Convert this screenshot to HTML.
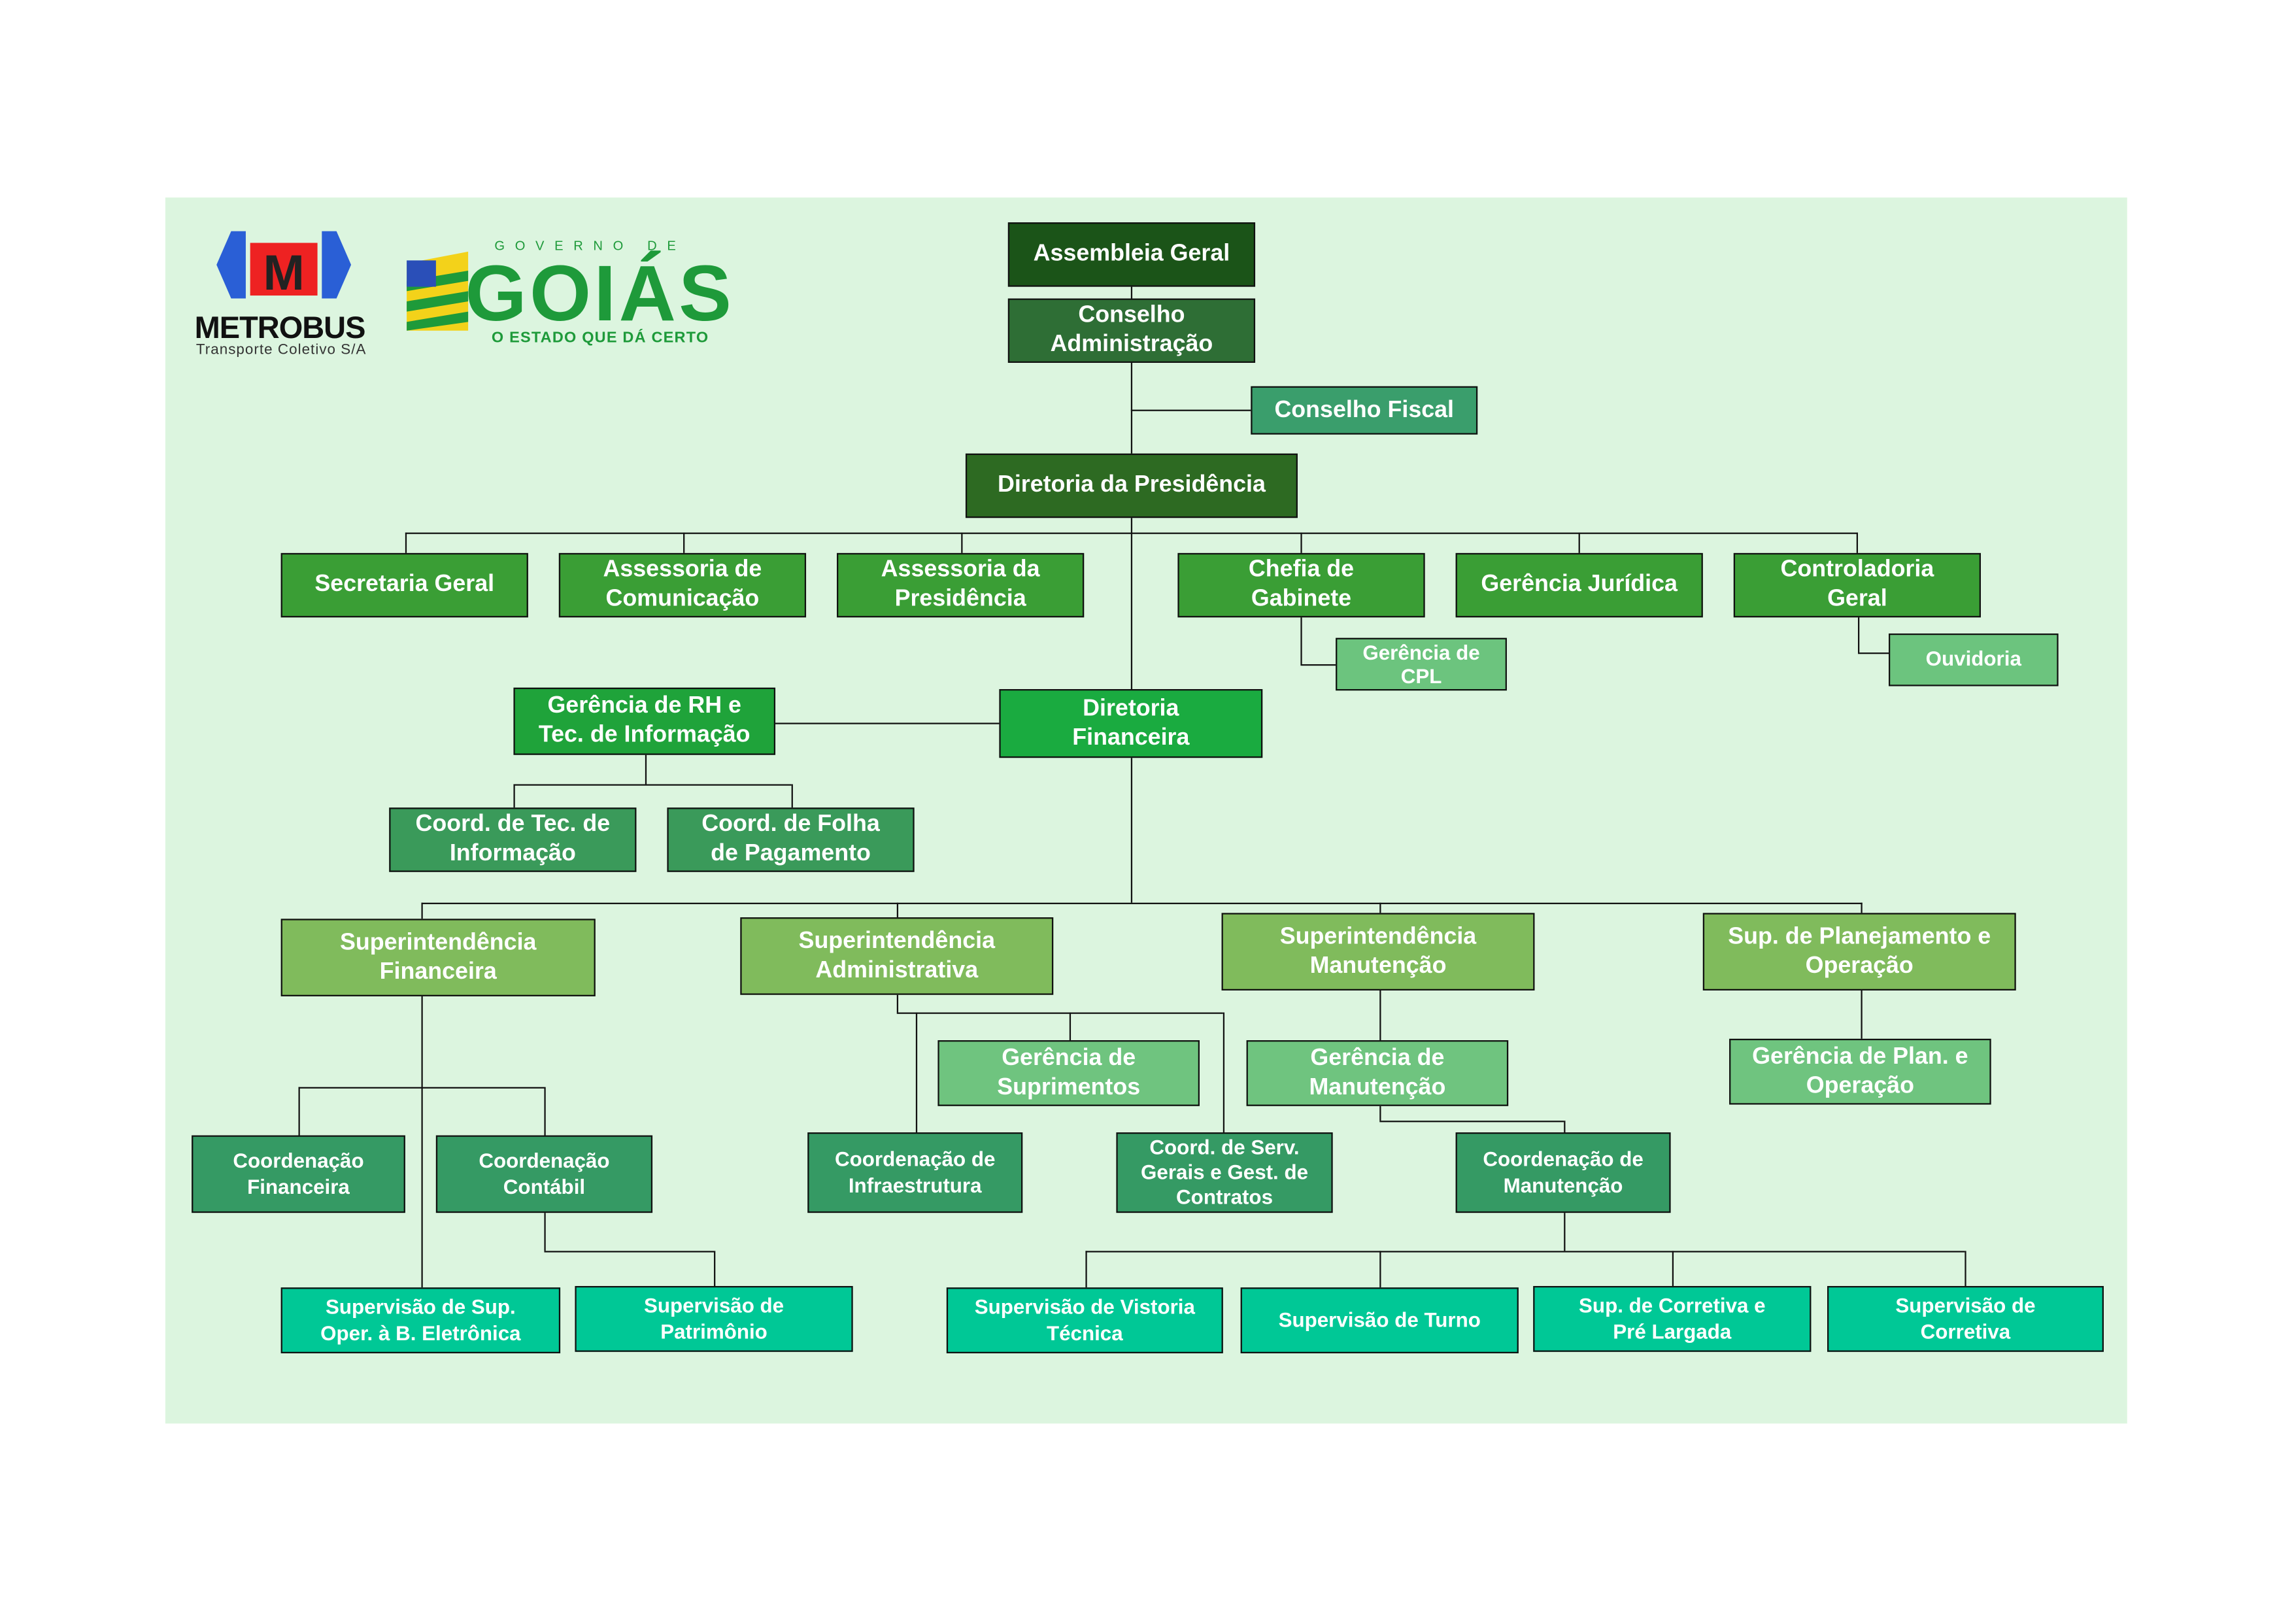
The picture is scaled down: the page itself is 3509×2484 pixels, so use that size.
<!DOCTYPE html>
<html><head><meta charset="utf-8"><style>
html,body{margin:0;padding:0;background:#fff;width:3509px;height:2481px;overflow:hidden}
#w{position:absolute;left:0;top:0;width:1570px;height:1110px;transform:scale(2.2378);transform-origin:0 0;font-family:"Liberation Sans",sans-serif}
#bg{position:absolute;left:113px;top:135px;width:1341px;height:838px;background:#dcf5df}
.b{position:absolute;box-sizing:border-box;border:1.3px solid #111;color:#fff;font-weight:bold;display:flex;align-items:center;justify-content:center;text-align:center;line-height:1.22;font-size:16px}
.s{font-size:14px}
.h{position:absolute;height:1.3px;background:#111}
.v{position:absolute;width:1.3px;background:#111}
</style></head><body><div id="w">
<div id="bg"></div>
<svg style="position:absolute;left:128px;top:152px" width="390" height="100" viewBox="0 0 390 100">
<path d="M30 6 L40 6 L40 52 L30 52 L20 29 Z" fill="#2a5fd6"/>
<path d="M102 6 L92 6 L92 52 L102 52 L112 29 Z" fill="#2a5fd6"/>
<rect x="43" y="14" width="46" height="36" fill="#e22"/>
<text x="66" y="46" font-family="Liberation Sans" font-weight="bold" font-size="34" fill="#222" text-anchor="middle">M</text>
<text x="5" y="79" font-family="Liberation Sans" font-weight="bold" font-size="21" fill="#111" textLength="117">METROBUS</text>
<text x="6" y="90" font-family="Liberation Sans" font-size="10" fill="#333" textLength="116">Transporte Coletivo S/A</text>
<path d="M150 28 L192 20 L192 74 L150 74 Z" fill="#f3d21a"/>
<path d="M150 40 L192 33 L192 40 L150 47 Z M150 54 L192 47 L192 54 L150 61 Z M150 68 L192 61 L192 68 L150 74 Z" fill="#1e9a3a"/>
<rect x="150" y="26" width="20" height="18" fill="#2a4fb8"/>
<text x="210" y="19" font-family="Liberation Sans" font-size="9" fill="#1e9a3a" letter-spacing="7">GOVERNO DE</text>
<text x="190" y="67" font-family="Liberation Sans" font-weight="bold" font-size="54" fill="#1e9a3a" textLength="182">GOIÁS</text>
<text x="208" y="82" font-family="Liberation Sans" font-weight="bold" font-size="10.5" fill="#1e9a3a" textLength="148">O ESTADO QUE DÁ CERTO</text>
</svg>
<div class="v" style="left:773px;top:196px;height:114px"></div>
<div class="h" style="left:773px;top:280px;width:82px"></div>
<div class="v" style="left:773px;top:354px;height:117px"></div>
<div class="v" style="left:773px;top:518px;height:99px"></div>
<div class="h" style="left:277px;top:364px;width:993px"></div>
<div class="v" style="left:277px;top:364px;height:14px"></div>
<div class="v" style="left:467px;top:364px;height:14px"></div>
<div class="v" style="left:657px;top:364px;height:14px"></div>
<div class="v" style="left:889px;top:364px;height:14px"></div>
<div class="v" style="left:1079px;top:364px;height:14px"></div>
<div class="v" style="left:1269px;top:364px;height:14px"></div>
<div class="v" style="left:889px;top:422px;height:32px"></div>
<div class="h" style="left:889px;top:454px;width:24px"></div>
<div class="v" style="left:1270px;top:422px;height:24px"></div>
<div class="h" style="left:1270px;top:446px;width:21px"></div>
<div class="h" style="left:530px;top:494px;width:153px"></div>
<div class="v" style="left:441px;top:516px;height:20px"></div>
<div class="h" style="left:351px;top:536px;width:190px"></div>
<div class="v" style="left:351px;top:536px;height:16px"></div>
<div class="v" style="left:541px;top:536px;height:16px"></div>
<div class="h" style="left:288px;top:617px;width:985px"></div>
<div class="v" style="left:288px;top:617px;height:11px"></div>
<div class="v" style="left:613px;top:617px;height:10px"></div>
<div class="v" style="left:943px;top:617px;height:7px"></div>
<div class="v" style="left:1272px;top:617px;height:7px"></div>
<div class="v" style="left:288px;top:681px;height:199px"></div>
<div class="h" style="left:204px;top:743px;width:168px"></div>
<div class="v" style="left:204px;top:743px;height:33px"></div>
<div class="v" style="left:372px;top:743px;height:33px"></div>
<div class="v" style="left:372px;top:829px;height:26px"></div>
<div class="h" style="left:372px;top:855px;width:116px"></div>
<div class="v" style="left:488px;top:855px;height:24px"></div>
<div class="v" style="left:613px;top:680px;height:12px"></div>
<div class="h" style="left:613px;top:692px;width:223px"></div>
<div class="v" style="left:731px;top:692px;height:19px"></div>
<div class="v" style="left:626px;top:692px;height:82px"></div>
<div class="v" style="left:836px;top:692px;height:82px"></div>
<div class="v" style="left:943px;top:677px;height:34px"></div>
<div class="v" style="left:943px;top:756px;height:10px"></div>
<div class="h" style="left:943px;top:766px;width:126px"></div>
<div class="v" style="left:1069px;top:766px;height:8px"></div>
<div class="v" style="left:1069px;top:829px;height:26px"></div>
<div class="h" style="left:742px;top:855px;width:601px"></div>
<div class="v" style="left:742px;top:855px;height:25px"></div>
<div class="v" style="left:943px;top:855px;height:25px"></div>
<div class="v" style="left:1143px;top:855px;height:24px"></div>
<div class="v" style="left:1343px;top:855px;height:24px"></div>
<div class="v" style="left:1272px;top:677px;height:33px"></div>
<div class="b" style="left:689px;top:152px;width:169px;height:44px;background:#1b5418">Assembleia Geral</div>
<div class="b" style="left:689px;top:204px;width:169px;height:44px;background:#2e6e35">Conselho<br>Administração</div>
<div class="b" style="left:855px;top:264px;width:155px;height:33px;background:#3a9e6c">Conselho Fiscal</div>
<div class="b" style="left:660px;top:310px;width:227px;height:44px;background:#2d6a22">Diretoria da Presidência</div>
<div class="b" style="left:192px;top:378px;width:169px;height:44px;background:#3a9e35">Secretaria Geral</div>
<div class="b" style="left:382px;top:378px;width:169px;height:44px;background:#3a9e35">Assessoria de<br>Comunicação</div>
<div class="b" style="left:572px;top:378px;width:169px;height:44px;background:#3a9e35">Assessoria da<br>Presidência</div>
<div class="b" style="left:805px;top:378px;width:169px;height:44px;background:#3a9e35">Chefia de<br>Gabinete</div>
<div class="b" style="left:995px;top:378px;width:169px;height:44px;background:#3a9e35">Gerência Jurídica</div>
<div class="b" style="left:1185px;top:378px;width:169px;height:44px;background:#3a9e35">Controladoria<br>Geral</div>
<div class="b s" style="left:913px;top:436px;width:117px;height:36px;background:#6cc47e;line-height:1.15">Gerência de<br>CPL</div>
<div class="b s" style="left:1291px;top:433px;width:116px;height:36px;background:#6cc47e">Ouvidoria</div>
<div class="b" style="left:351px;top:470px;width:179px;height:46px;background:#1fa33a">Gerência de RH e<br>Tec. de Informação</div>
<div class="b" style="left:683px;top:471px;width:180px;height:47px;background:#1aab40">Diretoria<br>Financeira</div>
<div class="b" style="left:266px;top:552px;width:169px;height:44px;background:#3a9a5a">Coord. de Tec. de<br>Informação</div>
<div class="b" style="left:456px;top:552px;width:169px;height:44px;background:#3a9a5a">Coord. de Folha<br>de Pagamento</div>
<div class="b" style="left:192px;top:628px;width:215px;height:53px;background:#80bb5c">Superintendência<br>Financeira</div>
<div class="b" style="left:506px;top:627px;width:214px;height:53px;background:#80bb5c">Superintendência<br>Administrativa</div>
<div class="b" style="left:835px;top:624px;width:214px;height:53px;background:#80bb5c">Superintendência<br>Manutenção</div>
<div class="b" style="left:1164px;top:624px;width:214px;height:53px;background:#80bb5c">Sup. de Planejamento e<br>Operação</div>
<div class="b" style="left:641px;top:711px;width:179px;height:45px;background:#6fc47f">Gerência de<br>Suprimentos</div>
<div class="b" style="left:852px;top:711px;width:179px;height:45px;background:#6fc47f">Gerência de<br>Manutenção</div>
<div class="b" style="left:1182px;top:710px;width:179px;height:45px;background:#6fc47f">Gerência de Plan. e<br>Operação</div>
<div class="b s" style="left:131px;top:776px;width:146px;height:53px;background:#359a64">Coordenação<br>Financeira</div>
<div class="b s" style="left:298px;top:776px;width:148px;height:53px;background:#359a64">Coordenação<br>Contábil</div>
<div class="b s" style="left:552px;top:774px;width:147px;height:55px;background:#359a64">Coordenação de<br>Infraestrutura</div>
<div class="b s" style="left:763px;top:774px;width:148px;height:55px;background:#359a64;line-height:1.2">Coord. de Serv.<br>Gerais e Gest. de<br>Contratos</div>
<div class="b s" style="left:995px;top:774px;width:147px;height:55px;background:#359a64">Coordenação de<br>Manutenção</div>
<div class="b s" style="left:192px;top:880px;width:191px;height:45px;background:#00c896">Supervisão de Sup.<br>Oper. à B. Eletrônica</div>
<div class="b s" style="left:393px;top:879px;width:190px;height:45px;background:#00c896">Supervisão de<br>Patrimônio</div>
<div class="b s" style="left:647px;top:880px;width:189px;height:45px;background:#00c896">Supervisão de Vistoria<br>Técnica</div>
<div class="b s" style="left:848px;top:880px;width:190px;height:45px;background:#00c896">Supervisão de Turno</div>
<div class="b s" style="left:1048px;top:879px;width:190px;height:45px;background:#00c896">Sup. de Corretiva e<br>Pré Largada</div>
<div class="b s" style="left:1249px;top:879px;width:189px;height:45px;background:#00c896">Supervisão de<br>Corretiva</div>
</div></body></html>
